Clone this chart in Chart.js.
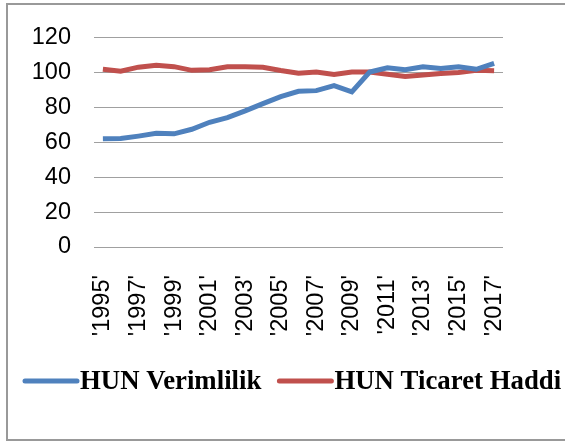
<!DOCTYPE html>
<html>
<head>
<meta charset="utf-8">
<script src="https://cdn.jsdelivr.net/npm/chart.js@4"></script>
<style>
  html, body { margin: 0; padding: 0; background: #fff; overflow: hidden; }
  #frame { position: absolute; left: 6px; top: 3px; width: 600px; height: 434px; border: 2px solid #999; }
  #wrap { position: absolute; left: 0; top: 0; width: 565px; height: 441px; }
</style>
</head>
<body>
<div id="frame"></div>
<div id="wrap"><canvas id="chart"></canvas></div>
<script>
// Data
const years = ['1995','1996','1997','1998','1999','2000','2001','2002','2003','2004','2005','2006',
               '2007','2008','2009','2010','2011','2012','2013','2014','2015','2016','2017'];
const verimlilik = [61.9, 62.0, 63.4, 65.0, 64.7, 67.3, 71.3, 74.0, 77.8, 82.0, 86.0, 89.0,
                    89.4, 92.3, 88.7, 100.0, 102.4, 101.3, 103.0, 102.0, 103.0, 101.6, 105.0];
const ticaretHaddi = [101.6, 100.5, 102.8, 103.9, 103.1, 101.0, 101.4, 103.0, 103.0, 102.8, 100.9, 99.4,
                      100.0, 98.6, 100.0, 100.0, 98.8, 97.5, 98.3, 99.2, 99.8, 101.0, 100.7];
const yTicks = [0, 20, 40, 60, 80, 100, 120];

const tickFont = { family: '"Liberation Sans", Arial, sans-serif', size: 23.5 };

// Legend drawn by hand: Excel-style, line sample right next to the text
const lineLegend = {
    id: 'lineLegend',
    afterDraw(chart) {
        const c = chart.ctx;
        const y = 381;
        let x = 23;
        c.save();
        c.font = 'bold 26.8px "Liberation Serif", "Times New Roman", serif';
        c.textBaseline = 'middle';
        chart.data.datasets.forEach(ds => {
            c.strokeStyle = ds.borderColor;
            c.lineWidth = 5;
            c.lineCap = 'round';
            c.beginPath();
            c.moveTo(x + 2, y);
            c.lineTo(x + 54, y);
            c.stroke();
            x += 57;
            c.fillStyle = '#000';
            c.fillText(ds.label, x, y + 1);
            x += c.measureText(ds.label).width + 16;
        });
        c.restore();
    }
};

const ctx = document.getElementById('chart').getContext('2d');
new Chart(ctx, {
    type: 'line',
    data: {
        labels: years,
        datasets: [
            {
                label: 'HUN Verimlilik',
                data: verimlilik,
                borderColor: '#4F81BD',
                backgroundColor: '#4F81BD',
                borderWidth: 5,
                pointRadius: 0,
                tension: 0
            },
            {
                label: 'HUN Ticaret Haddi',
                data: ticaretHaddi,
                borderColor: '#C0504D',
                backgroundColor: '#C0504D',
                borderWidth: 5,
                pointRadius: 0,
                tension: 0
            }
        ]
    },
    plugins: [lineLegend],
    options: {
        responsive: true,
        maintainAspectRatio: false,
        animation: false,
        layout: { padding: { left: 0, right: 0, top: 33, bottom: 84 } },
        plugins: {
            tooltip: { enabled: false },
            legend: { display: false }
        },
        scales: {
            x: {
                offset: true,
                grid: { display: false },
                border: { display: false },
                afterFit: function (scale) { scale.height = 110; },
                ticks: {
                    color: '#000',
                    font: tickFont,
                    autoSkip: false,
                    minRotation: 90,
                    maxRotation: 90,
                    padding: 20,
                    callback: function (value, index) {
                        return index % 2 === 0 ? "'" + years[index] + "'" : '';
                    }
                }
            },
            y: {
                min: 0,
                max: 120,
                afterFit: function (scale) { scale.width = 94; },
                afterBuildTicks: function (scale) { scale.ticks = yTicks.map(v => ({ value: v })); },
                border: { display: false },
                grid: { color: '#a0a0a0', lineWidth: 1, drawTicks: false },
                ticks: { color: '#000', font: tickFont, padding: 23 }
            },
            // empty right-hand spacer so the plot ends where the reference does
            spacer: {
                type: 'linear',
                position: 'right',
                grid: { display: false },
                border: { display: false },
                ticks: { display: false },
                afterFit: function (scale) { scale.width = 62; }
            }
        }
    }
});
</script>
</body>
</html>
